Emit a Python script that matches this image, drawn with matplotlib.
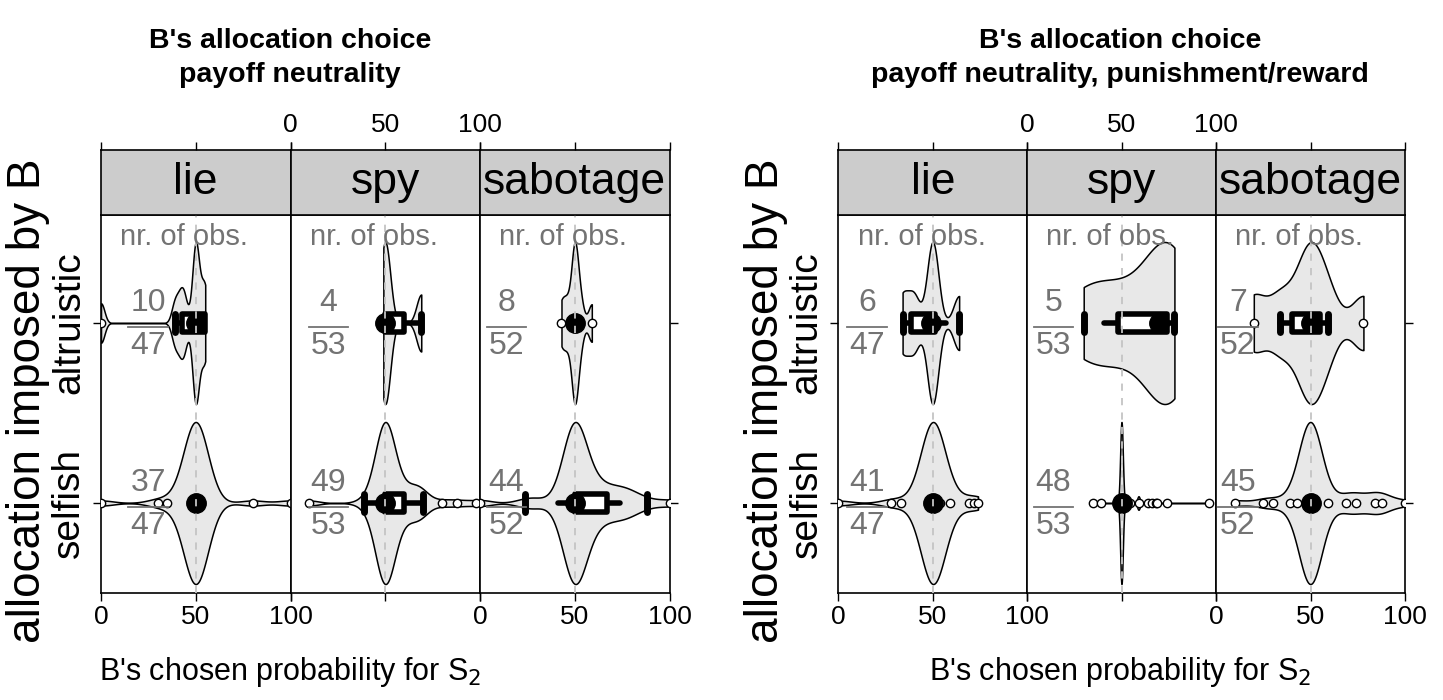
import numpy as np
import matplotlib
matplotlib.use("Agg")
import matplotlib.pyplot as plt
from matplotlib.patches import Rectangle

plt.rcParams['font.family'] = ['Liberation Sans', 'DejaVu Sans']

W, H = 1443, 700

treatments = ['lie', 'spy', 'sabotage']
allocations = ['altruistic', 'selfish']      # altruistic on top (y=2), selfish below (y=1)
titles = ["B's allocation choice\npayoff neutrality",
          "B's allocation choice\npayoff neutrality, punishment/reward"]
xlabel = "B's chosen probability for S$_2$"
ylabel = "allocation imposed by B"

# nr. of obs. per treatment: [chart][treatment]
n_altruistic = [[10, 4, 8], [6, 5, 7]]
n_selfish = [[37, 49, 44], [41, 48, 45]]
n_total = [[47, 53, 52], [47, 53, 52]]

pn_values = [[[0, 39, 42, 44, 50, 54, 55], [49, 50, 51, 69], [43, 46, 50, 53, 59]],
             [[0, 30, 35, 50, 80, 100],
              [10, 39, 45, 50, 55, 60, 67, 70, 80, 88, 98],
              [0, 24, 30, 45, 50, 55, 60, 65, 70, 75, 80, 88, 100]]]
pn_counts = [[[1, 1, 1, 1, 4, 1, 1], [1, 1, 1, 1], [1, 1, 4, 1, 1]],
             [[1, 1, 1, 32, 1, 1],
              [1, 1, 3, 29, 3, 3, 5, 1, 1, 1, 1],
              [1, 1, 1, 3, 22, 3, 3, 2, 2, 2, 2, 1, 1]]]
pr_values = [[[34, 40, 50, 64], [30, 48, 70, 74, 78], [20, 34, 45, 50, 52, 59, 78]],
             [[0, 28, 33, 50, 54, 59, 69, 72, 74],
              [35, 39, 50, 54.5, 59, 64, 66, 68, 69, 74, 96.5],
              [10, 25, 30, 39, 43, 50, 59, 69, 74, 84, 88, 100]]]
pr_counts = [[[1, 1, 3, 1], [1, 1, 1, 1, 1], [1, 1, 1, 1, 1, 1, 1]],
             [[1, 1, 1, 33, 1, 1, 1, 1, 1],
              [1, 1, 36, 1, 3, 1, 1, 1, 1, 1, 1],
              [1, 1, 1, 1, 1, 30, 1, 2, 2, 2, 2, 1]]]
# kernel bandwidths of the violins
pn_bw = [[1.8, 2.5, 1.8], [6.5, 5.0, 6.0]]
pr_bw = [[3.0, 12.0, 6.0], [6.5, 0.7, 6.0]]

# box glyphs: whisker low, q1, median, q3, whisker high
pn_box = [[(39, 43, 50, 55, 55), (50, 50, 50, 60, 69), (50, 50, 50, 50, 50)],
          [(50, 50, 50, 50, 50), (39, 50, 50, 60, 70), (41, 50, 50, 67, 74)]]
pr_box = [[(34, 38.5, 49, 51, 57), (41, 48, 70, 74, 78), (34, 40, 50, 55, 59)],
          [(50, 50, 50, 50, 50), (50, 50, 50, 50, 50), (50, 50, 50, 50, 50)]]
pn_caps = [[[39], [69], []], [[], [39, 70], [24, 88]]]
pr_caps = [[[34, 64], [30, 78], [34, 59]], [[], [], []]]
pn_outl = [[[0], [], [43, 59]],
           [[0, 30, 35, 80, 100], [10, 80, 88, 98], [0, 100]]]
pr_outl = [[[], [], [20, 78]],
           [[0, 28, 33, 54, 59, 69, 72, 74],
            [35, 39, 54.5, 59, 64, 66, 68, 69, 74, 96.5],
            [10, 25, 30, 39, 43, 59, 69, 74, 84, 88, 100]]]

charts = [(pn_values, pn_counts, pn_bw, pn_box, pn_caps, pn_outl),
          (pr_values, pr_counts, pr_bw, pr_box, pr_caps, pr_outl)]

# layout in pixels
x_edges = [[101, 290.5, 480, 669.5], [838.5, 1027, 1216, 1405]]
frac_x = [[25, 20, 14], [15, 14, 11.6]]
title_x = [290, 1120]
strip_top, panel_top, panel_bot = 150, 215, 593
gray_txt = '#737373'

fig = plt.figure(figsize=(W / 100, H / 100), dpi=100)


def px_axes(x0, y0, x1, y1):
    return fig.add_axes([x0 / W, 1 - y1 / H, (x1 - x0) / W, (y1 - y0) / H])


def draw_violin(ax, y, vals, cnts, bw):
    v = np.asarray(vals, float)
    c = np.asarray(cnts, float)
    xs = np.linspace(v.min(), v.max(), 1500)
    d = (c[None, :] * np.exp(-0.5 * ((xs[:, None] - v[None, :]) / bw) ** 2)).sum(1)
    d = d / d.max() * 0.45
    ax.fill_between(xs, y - d, y + d, facecolor='#e8e8e8', edgecolor='black',
                    lw=1.1, zorder=2)


def draw_box(ax, y, stats, caps, outl):
    wlo, q1, med, q3, whi = stats
    h = 0.05
    if q1 > wlo:
        ax.plot([wlo, q1], [y, y], color='k', lw=4, solid_capstyle='round', zorder=4)
    if whi > q3:
        ax.plot([q3, whi], [y, y], color='k', lw=4, solid_capstyle='round', zorder=4)
    if q3 > q1:
        ax.add_patch(Rectangle((q1, y - h), q3 - q1, 2 * h, facecolor='white',
                               edgecolor='k', lw=4, joinstyle='round', zorder=4))
    for c in caps:
        ax.plot([c, c], [y - h, y + h], color='k', lw=5, solid_capstyle='round', zorder=4)
    if outl:
        ax.plot(outl, [y] * len(outl), 'o', mfc='white', mec='k', ms=6, mew=1.0, zorder=5)
    ax.plot([med], [y], 'o', color='k', ms=14, zorder=6)


for ci, (vals, cnts, bws, boxes, caps, outls) in enumerate(charts):
    xe = x_edges[ci]
    for ti, tr in enumerate(treatments):
        ax = px_axes(xe[ti], panel_top, xe[ti + 1], panel_bot)
        ax.set_xlim(0, 100)
        ax.set_ylim(0.5, 2.6)
        ax.axvline(50, color='#c4c4c4', ls=(0, (4, 4)), lw=1.3, zorder=7)
        for ri, al in enumerate(allocations):
            y = 2 - ri
            draw_violin(ax, y, vals[ri][ti], cnts[ri][ti], bws[ri][ti])
            draw_box(ax, y, boxes[ri][ti], caps[ri][ti], outls[ri][ti])
            n_part = n_altruistic[ci][ti] if ri == 0 else n_selfish[ci][ti]
            fx = frac_x[ci][ti]
            ax.text(fx, y + 0.11, str(n_part), ha='center', va='center',
                    fontsize=23, color=gray_txt, zorder=8)
            ax.text(fx, y - 0.13, str(n_total[ci][ti]), ha='center', va='center',
                    fontsize=23, color=gray_txt, zorder=8)
            ax.plot([fx - 10.5, fx + 10.5], [y - 0.022, y - 0.022], color=gray_txt,
                    lw=1.3, zorder=8)
        ax.text(44, 2.479, 'nr. of obs.', ha='center', va='center', fontsize=21,
                color=gray_txt, zorder=8)
        for s in ax.spines.values():
            s.set_linewidth(1.2)
        ax.set_xticks([0, 50, 100])
        ax.tick_params(axis='x', direction='out', length=6, width=1, labelsize=19,
                       pad=3, labelbottom=(ti != 1))
        ax.set_yticks([2, 1])
        if ti == 0:
            ax.set_yticklabels(allocations, rotation=90, va='center', fontsize=28)
            ax.tick_params(axis='y', direction='out', length=6, width=1, pad=4)
        else:
            ax.tick_params(axis='y', left=False, labelleft=False)
        if ti == 2:
            ax.tick_params(axis='y', right=True, direction='out', length=6, width=1)

        sx = px_axes(xe[ti], strip_top, xe[ti + 1], panel_top)
        sx.set_facecolor('#cccccc')
        sx.set_xlim(0, 100)
        sx.set_yticks([])
        sx.set_xticks([0, 50, 100])
        sx.tick_params(axis='x', bottom=False, labelbottom=False, top=True,
                       labeltop=(ti == 1), direction='out', length=6, width=1,
                       labelsize=19, pad=3)
        for s in sx.spines.values():
            s.set_linewidth(1.2)
        sx.text(50, 0.5, tr, ha='center', va='center', fontsize=32,
                transform=sx.get_xaxis_transform())

    fig.text(title_x[ci] / W, 1 - 58 / H, titles[ci], ha='center', va='center',
             fontsize=20.5, fontweight='bold', linespacing=1.45)
    fig.text(title_x[ci] / W, 1 - 672 / H, xlabel, ha='center', va='center', fontsize=22)
    fig.text((xe[0] - 73) / W, 1 - 401 / H, ylabel, ha='center', va='center',
             fontsize=33, rotation=90)

fig.savefig('out.png', dpi=100)
